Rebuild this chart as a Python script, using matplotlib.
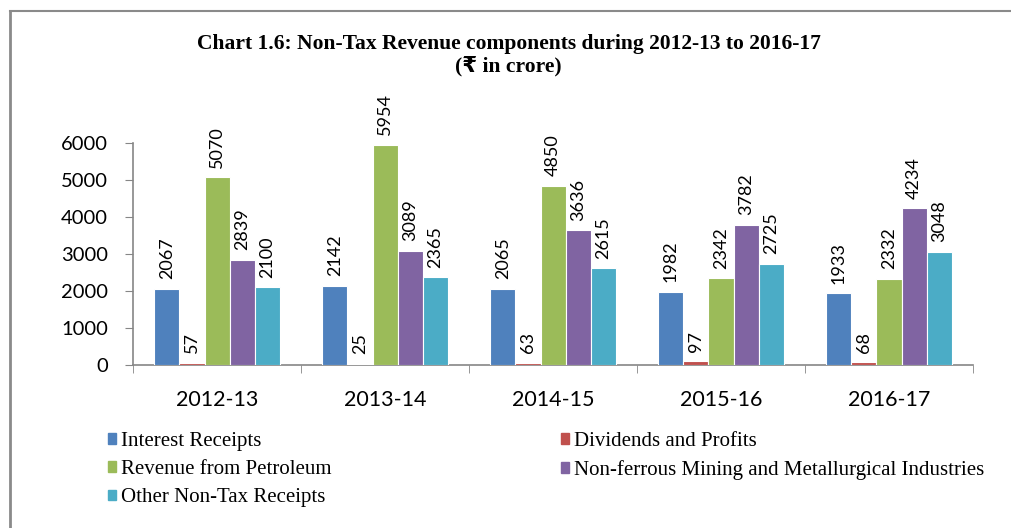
import numpy as np
import matplotlib
matplotlib.use("Agg")
import matplotlib.pyplot as plt
from matplotlib.patches import Patch

years = ["2012-13", "2013-14", "2014-15", "2015-16", "2016-17"]
series_names = [
    "Interest Receipts",
    "Dividends and Profits",
    "Revenue from Petroleum",
    "Non-ferrous Mining and Metallurgical Industries",
    "Other Non-Tax Receipts",
]
interest = [2067, 2142, 2065, 1982, 1933]
dividends = [57, 25, 63, 97, 68]
petroleum = [5070, 5954, 4850, 2342, 2332]
mining = [2839, 3089, 3636, 3782, 4234]
other = [2100, 2365, 2615, 2725, 3048]
colors = ["#4F81BD", "#C0504D", "#9BBB59", "#8064A2", "#4BACC6"]

num_font = "Lato"
grey = "#868686"

fig = plt.figure(figsize=(10.11, 5.28), dpi=100)
ax = fig.add_axes([0.1316, 0.3087, 0.8308, 0.4205])

x = np.arange(len(years))
w = 0.149
all_vals = [interest, dividends, petroleum, mining, other]
for i, vals in enumerate(all_vals):
    pos = x + (i - 2) * w
    bars = ax.bar(pos, vals, width=w, color=colors[i], edgecolor="white",
                  linewidth=0.8, label=series_names[i], zorder=3)
    for b, v in zip(bars, vals):
        ax.annotate(str(v), (b.get_x() + b.get_width() / 2, v),
                    xytext=(0, 7), textcoords="offset points",
                    rotation=90, ha="center", va="bottom",
                    fontsize=13, family=num_font, color="black")

ax.set_xlim(-0.5, len(years) - 0.5)
ax.set_ylim(0, 6000)
ax.set_yticks(range(0, 6001, 1000))
ax.set_yticklabels([str(v) for v in range(0, 6001, 1000)],
                   fontsize=14.5, family=num_font)
ax.set_xticks(x)
ax.set_xticklabels(years, fontsize=15.5, family=num_font)
ax.set_xticks(np.arange(-0.5, len(years), 1), minor=True)
ax.tick_params(axis="x", which="major", length=0, pad=18)
ax.tick_params(axis="x", which="minor", length=6, color=grey, direction="out")
ax.tick_params(axis="y", length=6, color=grey, direction="out", pad=12)
for side in ["top", "right"]:
    ax.spines[side].set_visible(False)
for side in ["left", "bottom"]:
    ax.spines[side].set_color(grey)
    ax.spines[side].set_linewidth(1.2)

fig.text(0.503, 0.917, "Chart 1.6: Non-Tax Revenue components during 2012-13 to 2016-17",
         ha="center", va="center", fontsize=15.5, fontweight="bold",
         family=["Liberation Serif", "DejaVu Serif"])
fig.text(0.503, 0.874, "(\u20b9 in crore)", ha="center", va="center",
         fontsize=15.5, fontweight="bold",
         family=["Liberation Serif", "DejaVu Sans"])

handles = [Patch(color=c) for c in colors]
order = [0, 2, 4, 1, 3]
fig.legend([handles[k] for k in order], [series_names[k] for k in order],
           ncol=2, loc="upper left", bbox_to_anchor=(0.092, 0.21),
           frameon=False, handlelength=0.4, handleheight=0.4,
           handletextpad=0.25, columnspacing=11.0, labelspacing=0.45,
           borderpad=0.2, prop={"family": "Liberation Serif", "size": 15})

# outer frame lines
fig.add_artist(plt.Line2D([0.0095, 0.0095], [0, 0.979], color="#8a8a8a", lw=2))
fig.add_artist(plt.Line2D([0.0095, 1], [0.979, 0.979], color="#8a8a8a", lw=1.5))

fig.savefig("out.png", dpi=100)
